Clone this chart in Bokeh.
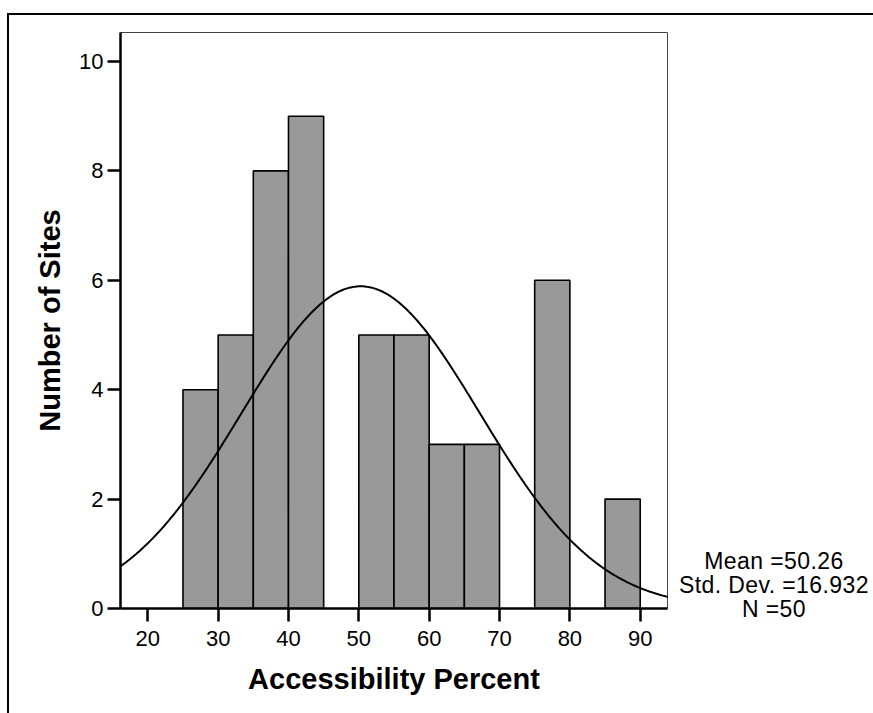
import numpy as np
from bokeh.plotting import figure
from bokeh.models import Range1d, FixedTicker, Div
from bokeh.layouts import row
from bokeh.embed import file_html
from bokeh.resources import INLINE

# Histogram data (bin starts, width 5) and counts
bin_starts = [25, 30, 35, 40, 45, 50, 55, 60, 65, 70, 75, 80, 85]
counts = [4, 5, 8, 9, 0, 5, 5, 3, 3, 0, 6, 0, 2]
bin_width = 5

# Summary statistics shown on the chart
mean_val = 50.26
std_val = 16.932
n_val = 50

x_ticks = [20, 30, 40, 50, 60, 70, 80, 90]
y_ticks = [0, 2, 4, 6, 8, 10]

FONT = "Liberation Sans"

# canvas origin offset by the outer border (page x=9, y=15)
OX, OY = 9, 15
PW = 670
p = figure(width=PW, height=713 - OY, output_backend="svg", toolbar_location=None,
           x_range=Range1d(16.12, 93.88), y_range=Range1d(0, 10.53),
           min_border_left=120 - OX, min_border_right=PW - (667 - OX), min_border_top=32 - OY,
           min_border_bottom=105)

p.grid.visible = False
p.background_fill_color = "white"
p.border_fill_color = "white"
p.outline_line_color = "#444444"
p.outline_line_width = 1

lefts = [b for b, c in zip(bin_starts, counts) if c > 0]
rights = [b + bin_width for b, c in zip(bin_starts, counts) if c > 0]
tops = [c for c in counts if c > 0]
p.quad(left=lefts, right=rights, top=tops, bottom=0,
       fill_color="#999999", line_color="black", line_width=1.6)

# Normal curve implied by the stated mean, std dev and N
xs = np.linspace(10, 100, 400)
ys = n_val * bin_width / (std_val * np.sqrt(2 * np.pi)) * np.exp(-0.5 * ((xs - mean_val) / std_val) ** 2)
p.line(xs, ys, line_color="black", line_width=2)

for ax in (p.xaxis[0], p.yaxis[0]):
    ax.axis_line_width = 2.5
    ax.axis_line_color = "black"
    ax.major_tick_line_width = 2.5
    ax.major_tick_line_color = "black"
    ax.major_tick_out = 13
    ax.major_tick_in = 0
    ax.minor_tick_line_color = None
    ax.major_label_text_font = FONT
    ax.major_label_text_font_size = "22px"
    ax.major_label_text_color = "black"
    ax.axis_label_text_font = FONT
    ax.axis_label_text_font_style = "bold"
    ax.axis_label_text_font_size = "29px"
    ax.axis_label_text_color = "black"

p.xaxis.ticker = FixedTicker(ticks=x_ticks)
p.yaxis.ticker = FixedTicker(ticks=y_ticks)
p.xaxis.major_label_standoff = 9
p.yaxis.major_label_standoff = 4
p.xaxis.axis_label = "Accessibility Percent"
p.yaxis.axis_label = "Number of Sites"
p.xaxis.axis_label_standoff = 14
p.yaxis.axis_label_standoff = 10

stats_lines = ["Mean =%.2f" % mean_val, "Std. Dev. =%.3f" % std_val, "N =%d" % n_val]
stats_html = ("<div style=\"font-family:'Liberation Sans';font-size:23px;line-height:24px;"
              "letter-spacing:0.4px;text-align:center;padding-top:534px;padding-right:4px;"
              "color:black;white-space:nowrap\">"
              + "<br>".join(stats_lines) + "</div>")
stats = Div(text=stats_html, width=873 - OX - PW, height=713 - OY, margin=0)

layout = row(p, stats, spacing=0)
layout.styles = {"margin-left": "7px", "margin-top": "13px",
                 "border-left": "2px solid black", "border-top": "2px solid black",
                 "background-color": "white"}

open("out.html", "w").write(file_html(layout, INLINE))
